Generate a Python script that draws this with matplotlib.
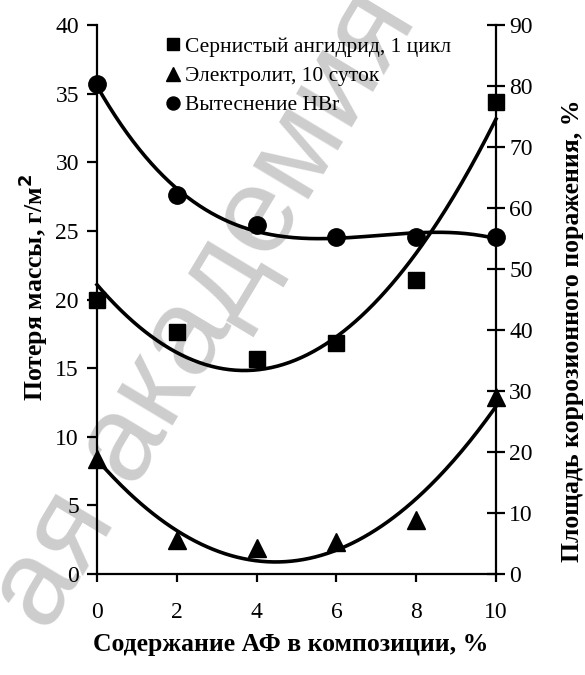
import numpy as np
import matplotlib
matplotlib.use("Agg")
import matplotlib.pyplot as plt

plt.rcParams['font.family'] = ['Liberation Serif', 'DejaVu Serif']

# Data (x: content of AF, %; y in left-axis units, g/m^2)
x = [0, 2, 4, 6, 8, 10]
so2 = [20.0, 17.6, 15.7, 16.8, 21.4, 34.4]        # squares
electrolyte = [8.4, 2.5, 1.9, 2.3, 3.9, 12.9]     # triangles
hbr = [35.7, 27.6, 25.4, 24.55, 24.55, 24.55]     # circles

labels = ["Сернистый ангидрид, 1 цикл", "Электролит, 10 суток", "Вытеснение HBr"]
left_ticks = [0, 5, 10, 15, 20, 25, 30, 35, 40]
right_ticks = [0, 10, 20, 30, 40, 50, 60, 70, 80, 90]
x_ticks = [0, 2, 4, 6, 8, 10]

fig = plt.figure(figsize=(5.85, 6.75), dpi=100)
W, H = 585, 675
x0, x1, yb, yt = 97, 496, 574, 25
ax = fig.add_axes([x0 / W, 1 - yb / H, (x1 - x0) / W, (yb - yt) / H])
ax.set_facecolor('none')

# watermark (behind the chart)
fig.text(205 / W, 1 - 310 / H, "ая академия", rotation=59, fontsize=88,
         color='#cdcdcd', family='Liberation Sans', ha='center', va='center',
         rotation_mode='anchor', zorder=-1)

xs = np.linspace(0, 10, 200)
fits = [(so2, 2), (electrolyte, 2), (hbr, 3)]
for ys, deg in fits:
    p = np.polyfit(x, ys, deg)
    ax.plot(xs, np.polyval(p, xs), color='black', lw=2.6, zorder=3, clip_on=False)

h1, = ax.plot(x, so2, 's', color='black', ms=12, clip_on=False, zorder=4)
h2, = ax.plot(x, electrolyte, '^', color='black', ms=13, clip_on=False, zorder=4)
h3, = ax.plot(x, hbr, 'o', color='black', ms=12.5, clip_on=False, zorder=4)

ax.set_xlim(0, 10)
ax.set_ylim(0, 40)
ax.set_xticks(x_ticks)
ax.set_yticks(left_ticks)
for s in ['top', 'right']:
    ax.spines[s].set_visible(False)
for s in ['left', 'bottom']:
    ax.spines[s].set_linewidth(1.6)
ax.tick_params(axis='x', direction='out', length=6, width=1.6, pad=14, labelsize=17)
ax.tick_params(axis='y', direction='out', length=7, width=1.6, pad=6, labelsize=17)

ax2 = ax.twinx()
ax2.set_ylim(0, 90)
ax2.set_yticks(right_ticks)
for s in ['top', 'left', 'bottom']:
    ax2.spines[s].set_visible(False)
ax2.spines['right'].set_linewidth(1.6)
ax2.tick_params(axis='y', direction='inout', length=13, width=1.6, pad=3, labelsize=17)

leg = ax.legend([h1, h2, h3], labels, loc='upper left',
                bbox_to_anchor=(0.148, 0.998), frameon=False, fontsize=15.5,
                handlelength=0.6, handletextpad=0.25, labelspacing=0.42,
                borderpad=0, markerscale=0.75)

fig.text(33 / W, 1 - 287 / H, "Потеря массы, г/м$^\\mathbf{2}$", rotation=90,
         fontsize=18.5, fontweight='bold', ha='center', va='center')
fig.text(572 / W, 1 - 331 / H, "Площадь коррозионного поражения, %", rotation=90,
         fontsize=18.5, fontweight='bold', ha='center', va='center')
fig.text(291 / W, 1 - 645 / H, "Содержание АФ в композиции, %",
         fontsize=18.5, fontweight='bold', ha='center', va='center')

fig.savefig("out.png", dpi=100)
